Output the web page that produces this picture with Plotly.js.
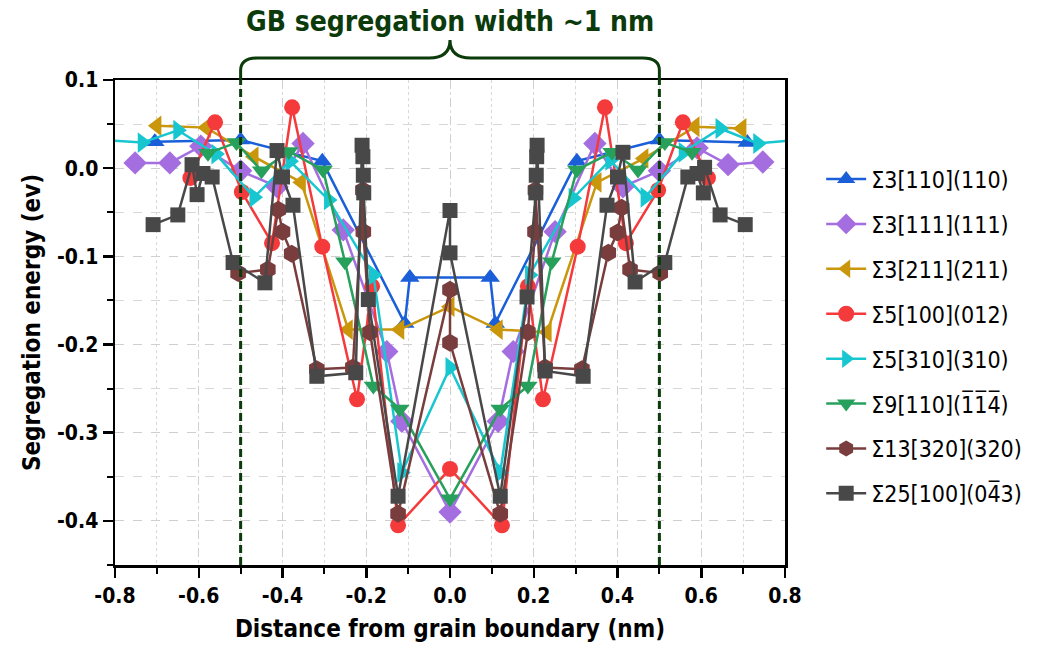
<!DOCTYPE html>
<html><head><meta charset="utf-8">
<script src="https://cdn.plot.ly/plotly-3.0.1.min.js"></script>
<style>html,body{margin:0;padding:0;background:#fff}#chart{width:1048px;height:661px}</style>
</head><body><div id="chart"></div>
<script>
// ---- data ----
const names = ["Σ3[110](110)", "Σ3[111](111)", "Σ3[211](211)", "Σ5[100](012)",
  "Σ5[310](310)", "Σ9[110](1̅1̅4̅)", "Σ13[320](320)", "Σ25[100](04̅3)"];

const s1x = [-0.705, -0.50, -0.305, -0.108, -0.096, 0.096, 0.108, 0.303, 0.50, 0.71];
const s1y = [0.030, 0.032, 0.008, -0.176, -0.124, -0.124, -0.176, 0.008, 0.032, 0.029];

const s2x = [-0.752, -0.669, -0.595, -0.50, -0.413, -0.351, -0.255, -0.151, -0.115, 0, 0.115, 0.151, 0.251, 0.346, 0.413, 0.50, 0.59, 0.664, 0.747];
const s2y = [0.006, 0.006, 0.025, -0.003, -0.021, 0.028, -0.070, -0.208, -0.287, -0.390, -0.287, -0.208, -0.072, 0.028, -0.021, -0.003, 0.023, 0.004, 0.007];

const s3x = [-0.70, -0.582, -0.468, -0.355, -0.243, -0.12, 0, 0.115, 0.232, 0.351, 0.463, 0.585, 0.697];
const s3y = [0.048, 0.046, 0.013, -0.016, -0.183, -0.183, -0.157, -0.183, -0.186, -0.016, 0.011, 0.047, 0.045];

const s4x = [-0.62, -0.561, -0.497, -0.425, -0.377, -0.305, -0.222, -0.186, -0.124, 0, 0.124, 0.186, 0.222, 0.305, 0.37, 0.42, 0.497, 0.556, 0.616];
const s4y = [-0.011, 0.052, -0.027, -0.085, 0.069, -0.089, -0.262, -0.134, -0.405, -0.341, -0.405, -0.134, -0.262, -0.089, 0.069, -0.085, -0.025, 0.052, -0.011];

const s5x = [-0.83, -0.735, -0.65, -0.559, -0.468, -0.382, -0.29, -0.183, -0.115, 0, 0.12, 0.19, 0.294, 0.382, 0.466, 0.557, 0.645, 0.735, 0.83];
const s5y = [0.032, 0.029, 0.043, 0.016, -0.033, 0.008, -0.036, -0.121, -0.345, -0.226, -0.345, -0.121, -0.034, 0.009, -0.033, 0.018, 0.045, 0.028, 0.032];

const s6x = [-0.578, -0.51, -0.45, -0.385, -0.303, -0.251, -0.183, -0.12, 0, 0.12, 0.186, 0.243, 0.303, 0.387, 0.449, 0.513, 0.578];
const s6y = [0.017, 0.029, -0.003, 0.019, -0.002, -0.106, -0.247, -0.273, -0.375, -0.273, -0.247, -0.106, -0.002, 0.018, -0.002, 0.029, 0.018];

const s7x = [-0.506, -0.435, -0.41, -0.40, -0.378, -0.318, -0.232, -0.208, -0.207, -0.191, -0.124, 0, 0, 0.12, 0.186, 0.203, 0.204, 0.227, 0.315, 0.378, 0.40, 0.41, 0.43, 0.502];
const s7y = [-0.119, -0.115, -0.047, -0.072, -0.097, -0.228, -0.226, -0.025, -0.072, -0.186, -0.392, -0.138, -0.198, -0.392, -0.186, -0.072, -0.025, -0.226, -0.228, -0.096, -0.073, -0.045, -0.115, -0.119];

const s8x = [-0.709, -0.65, -0.616, -0.604, -0.59, -0.568, -0.518, -0.442, -0.413, -0.40, -0.375, -0.318, -0.225, -0.21, -0.208, -0.207, -0.206, -0.195, -0.124, 0, 0,
  0.12, 0.184, 0.205, 0.206, 0.207, 0.208, 0.227, 0.318, 0.375, 0.40, 0.413, 0.442, 0.513, 0.568, 0.59, 0.605, 0.608, 0.645, 0.705];
const s8y = [-0.064, -0.053, 0.004, -0.030, -0.006, -0.010, -0.107, -0.130, 0.020, -0.010, -0.042, -0.236, -0.232, 0.026, 0.013, -0.008, -0.028, -0.149, -0.372, -0.048, -0.096,
  -0.372, -0.146, -0.028, -0.008, 0.013, 0.026, -0.230, -0.236, -0.042, -0.010, 0.018, -0.129, -0.107, -0.010, -0.006, -0.028, 0.001, -0.053, -0.064];

const xTickVals = [-0.8, -0.6, -0.4, -0.2, 0.0, 0.2, 0.4, 0.6, 0.8];
const xTickText = ["-0.8", "-0.6", "-0.4", "-0.2", "0.0", "0.2", "0.4", "0.6", "0.8"];
const yTickVals = [-0.4, -0.3, -0.2, -0.1, 0.0, 0.1];
const yTickText = ["-0.4", "-0.3", "-0.2", "-0.1", "0.0", "0.1"];
const gbBounds = [-0.5, 0.5];
const titleText = "GB segregation width ~1 nm";

// ---- styling ----
const colors = ["#1a5fd8", "#a56ee0", "#c9960c", "#f53a3c", "#18c6d0", "#27a05c", "#793d3d", "#484848"];
const symbols = ["triangle-up", "diamond", "triangle-left", "circle", "triangle-right", "triangle-down", "hexagon", "square"];
const msizes = [17, 18, 18, 16, 18, 17, 18, 15];
const xs = [s1x, s2x, s3x, s4x, s5x, s6x, s7x, s8x];
const ys = [s1y, s2y, s3y, s4y, s5y, s6y, s7y, s8y];
const FONT = "'DejaVu Sans Condensed', 'Liberation Sans Narrow', Roboto, sans-serif";

const traces = names.map((n, i) => ({
  type: "scatter", mode: "lines+markers", name: n,
  x: xs[i], y: ys[i], legendgroup: "g" + i,
  line: {color: colors[i], width: 2.5},
  marker: {color: colors[i], symbol: symbols[i], size: msizes[i]},
  cliponaxis: true
}));

const green = "#0b3a0b";
const shapes = gbBounds.map(b => ({
  type: "line", xref: "x", yref: "paper", x0: b, x1: b, y0: 0, y1: 1,
  line: {color: green, width: 3, dash: "8px,4px"}, layer: "above"
}));
const bl = gbBounds[0], br = gbBounds[1], bc = (bl + br) / 2;
shapes.push({
  type: "path", xref: "x", yref: "paper",
  path: `M ${bl},1.0 L ${bl},1.02 Q ${bl},1.0454 ${bl + 0.04},1.0454 L ${bc - 0.05},1.0454 Q ${bc},1.0454 ${bc},1.0825 Q ${bc},1.0454 ${bc + 0.05},1.0454 L ${br - 0.04},1.0454 Q ${br},1.0454 ${br},1.02 L ${br},1.0`,
  line: {color: green, width: 3}, fillcolor: "rgba(0,0,0,0)"
});

const axFont = {family: FONT, size: 21, color: "#000", weight: "bold"};
const layout = {
  width: 1048, height: 661,
  margin: {l: 115, r: 263, t: 80, b: 96},
  paper_bgcolor: "#fff", plot_bgcolor: "#fff",
  showlegend: true,
  legend: {x: 1.054, xanchor: "left", y: 0.84, yanchor: "top",
    font: {family: FONT, size: 23, color: "#000"}, tracegroupgap: 12, itemwidth: 40,
    bgcolor: "rgba(0,0,0,0)"},
  xaxis: {range: [-0.8, 0.8], tickvals: xTickVals, ticktext: xTickText,
    ticks: "outside", ticklen: 10, tickwidth: 2.5, tickcolor: "#000",
    showline: true, linewidth: 2.5, linecolor: "#000", mirror: true, zeroline: false,
    showgrid: true, gridcolor: "#cfcfcf", gridwidth: 1, griddash: "dash",
    minor: {dtick: 0.1, tick0: 0, ticks: "outside", ticklen: 6, tickwidth: 2, tickcolor: "#000",
      showgrid: true, gridcolor: "#d8d8d8", griddash: "dot", gridwidth: 1},
    tickfont: axFont,
    title: {text: "Distance from grain boundary (nm)", font: {family: FONT, size: 24, color: "#000", weight: "bold"}, standoff: 14}},
  yaxis: {range: [-0.45, 0.1], tickvals: yTickVals, ticktext: yTickText,
    ticks: "outside", ticklen: 10, tickwidth: 2.5, tickcolor: "#000",
    showline: true, linewidth: 2.5, linecolor: "#000", mirror: true, zeroline: false,
    showgrid: true, gridcolor: "#cfcfcf", gridwidth: 1, griddash: "dash",
    minor: {dtick: 0.05, tick0: 0, ticks: "outside", ticklen: 6, tickwidth: 2, tickcolor: "#000",
      showgrid: true, gridcolor: "#d8d8d8", griddash: "dash", gridwidth: 1},
    tickfont: axFont,
    title: {text: "Segregation energy (ev)", font: {family: FONT, size: 24, color: "#000", weight: "bold"}, standoff: 10}},
  xaxis2: {overlaying: "x", side: "top", anchor: "y", range: [-0.8, 0.8], tickvals: xTickVals,
    showticklabels: false, ticks: "inside", ticklen: 10, tickwidth: 2.5, tickcolor: "#000",
    showgrid: false, zeroline: false, showline: false,
    minor: {dtick: 0.1, tick0: 0, ticks: "inside", ticklen: 6, tickwidth: 2, tickcolor: "#000"}},
  yaxis2: {overlaying: "y", side: "right", anchor: "x", range: [-0.45, 0.1], tickvals: yTickVals,
    showticklabels: false, ticks: "inside", ticklen: 10, tickwidth: 2.5, tickcolor: "#000",
    showgrid: false, zeroline: false, showline: false,
    minor: {dtick: 0.05, tick0: 0, ticks: "inside", ticklen: 6, tickwidth: 2, tickcolor: "#000"}},
  shapes: shapes,
  annotations: [{text: titleText, xref: "x", yref: "paper", x: bc, y: 1.12, xanchor: "center", yanchor: "middle",
    showarrow: false, font: {family: FONT, size: 28, color: green, weight: "bold"}}]
};

Plotly.newPlot("chart", traces, layout, {displayModeBar: false, staticPlot: true});
</script>
</body></html>
